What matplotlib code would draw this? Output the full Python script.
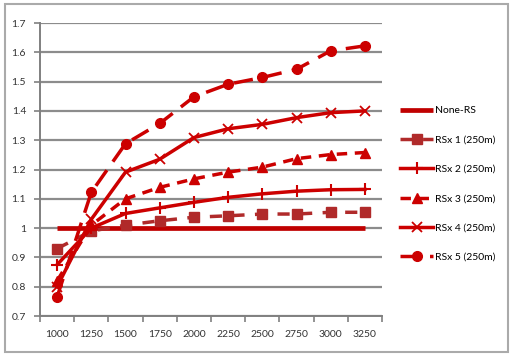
import matplotlib
matplotlib.use("Agg")
import matplotlib.pyplot as plt
from matplotlib.patches import Rectangle
import numpy as np

categories = ["1000", "1250", "1500", "1750", "2000", "2250", "2500", "2750", "3000", "3250"]
none_rs = [1.0, 1.0, 1.0, 1.0, 1.0, 1.0, 1.0, 1.0, 1.0, 1.0]
rs1 = [0.93, 0.99, 1.01, 1.025, 1.037, 1.042, 1.048, 1.048, 1.054, 1.054]
rs2 = [0.875, 1.0, 1.05, 1.069, 1.088, 1.105, 1.117, 1.126, 1.131, 1.132]
rs3 = [0.82, 1.01, 1.10, 1.139, 1.168, 1.191, 1.208, 1.237, 1.251, 1.258]
rs4 = [0.80, 1.03, 1.191, 1.235, 1.309, 1.339, 1.354, 1.377, 1.394, 1.40]
rs5 = [0.765, 1.122, 1.288, 1.357, 1.448, 1.491, 1.514, 1.542, 1.605, 1.622]
labels = ["None-RS", "RSx 1 (250m)", "RSx 2 (250m)", "RSx 3 (250m)", "RSx 4 (250m)", "RSx 5 (250m)"]
yticks = [0.7, 0.8, 0.9, 1, 1.1, 1.2, 1.3, 1.4, 1.5, 1.6, 1.7]

plt.rcParams['font.family'] = ['Lato', 'DejaVu Sans']

fig = plt.figure(figsize=(5.12, 3.55), dpi=100)
ax = fig.add_axes([40/512, 1-316/355, 342/512, 293/355])

x = np.arange(len(categories))
red = "#CC0000"
ax.plot(x, none_rs, color="#C00000", lw=3.4, solid_capstyle='butt', label=labels[0], zorder=3)
ax.plot(x, rs1, color="#B02A2A", lw=2.5, ls=(0, (3.5, 3)), marker='s', ms=6.5, label=labels[1], zorder=4)
ax.plot(x, rs2, color=red, lw=2.5, marker='+', ms=9, mew=1.5, label=labels[2], zorder=4)
ax.plot(x, rs3, color=red, lw=2.5, ls=(0, (3, 2.2)), marker='^', ms=7, label=labels[3], zorder=4)
ax.plot(x, rs4, color=red, lw=2.5, marker='x', ms=7.5, mew=1.3, label=labels[4], zorder=4)
ax.plot(x, rs5, color=red, lw=2.5, ls=(0, (5.5, 3)), marker='o', ms=7, label=labels[5], zorder=4)

ax.set_xlim(-0.5, len(categories) - 0.5)
ax.set_ylim(0.7, 1.7)
ax.set_yticks(yticks)
ax.set_yticklabels([f"{v:g}" for v in yticks])
ax.set_xticks(np.arange(-0.5, len(categories), 1.0))
ax.set_xticklabels([])
ax.set_xticks(x, minor=True)
ax.set_xticklabels(categories, minor=True)
ax.tick_params(axis='x', which='minor', length=0, pad=10, labelsize=7.5, colors="#333333")
ax.tick_params(axis='x', which='major', length=4, width=1.2, color="#808080", direction='out')
ax.tick_params(axis='y', length=4, width=1.2, color="#808080", labelsize=7.5, labelcolor="#333333", pad=6)
ax.grid(axis='y', color="#8c8c8c", lw=1.6, zorder=1)
ax.set_axisbelow(True)
for s in ['top', 'right']:
    ax.spines[s].set_visible(False)
for s in ['left', 'bottom']:
    ax.spines[s].set_color("#808080")
    ax.spines[s].set_linewidth(1.4)

leg = ax.legend(loc='upper left', bbox_to_anchor=(360/342, 1 - (106-23)/293), frameon=False,
                fontsize=7.5, labelspacing=1.92, handlelength=3.2, handletextpad=0.15,
                borderaxespad=0, borderpad=0)

fig.patches.append(Rectangle((5/512, 3/355), 503/512, 348/355, transform=fig.transFigure,
                             fill=False, edgecolor="#aaaaaa", lw=1.5))

fig.savefig("out.png", dpi=100)
